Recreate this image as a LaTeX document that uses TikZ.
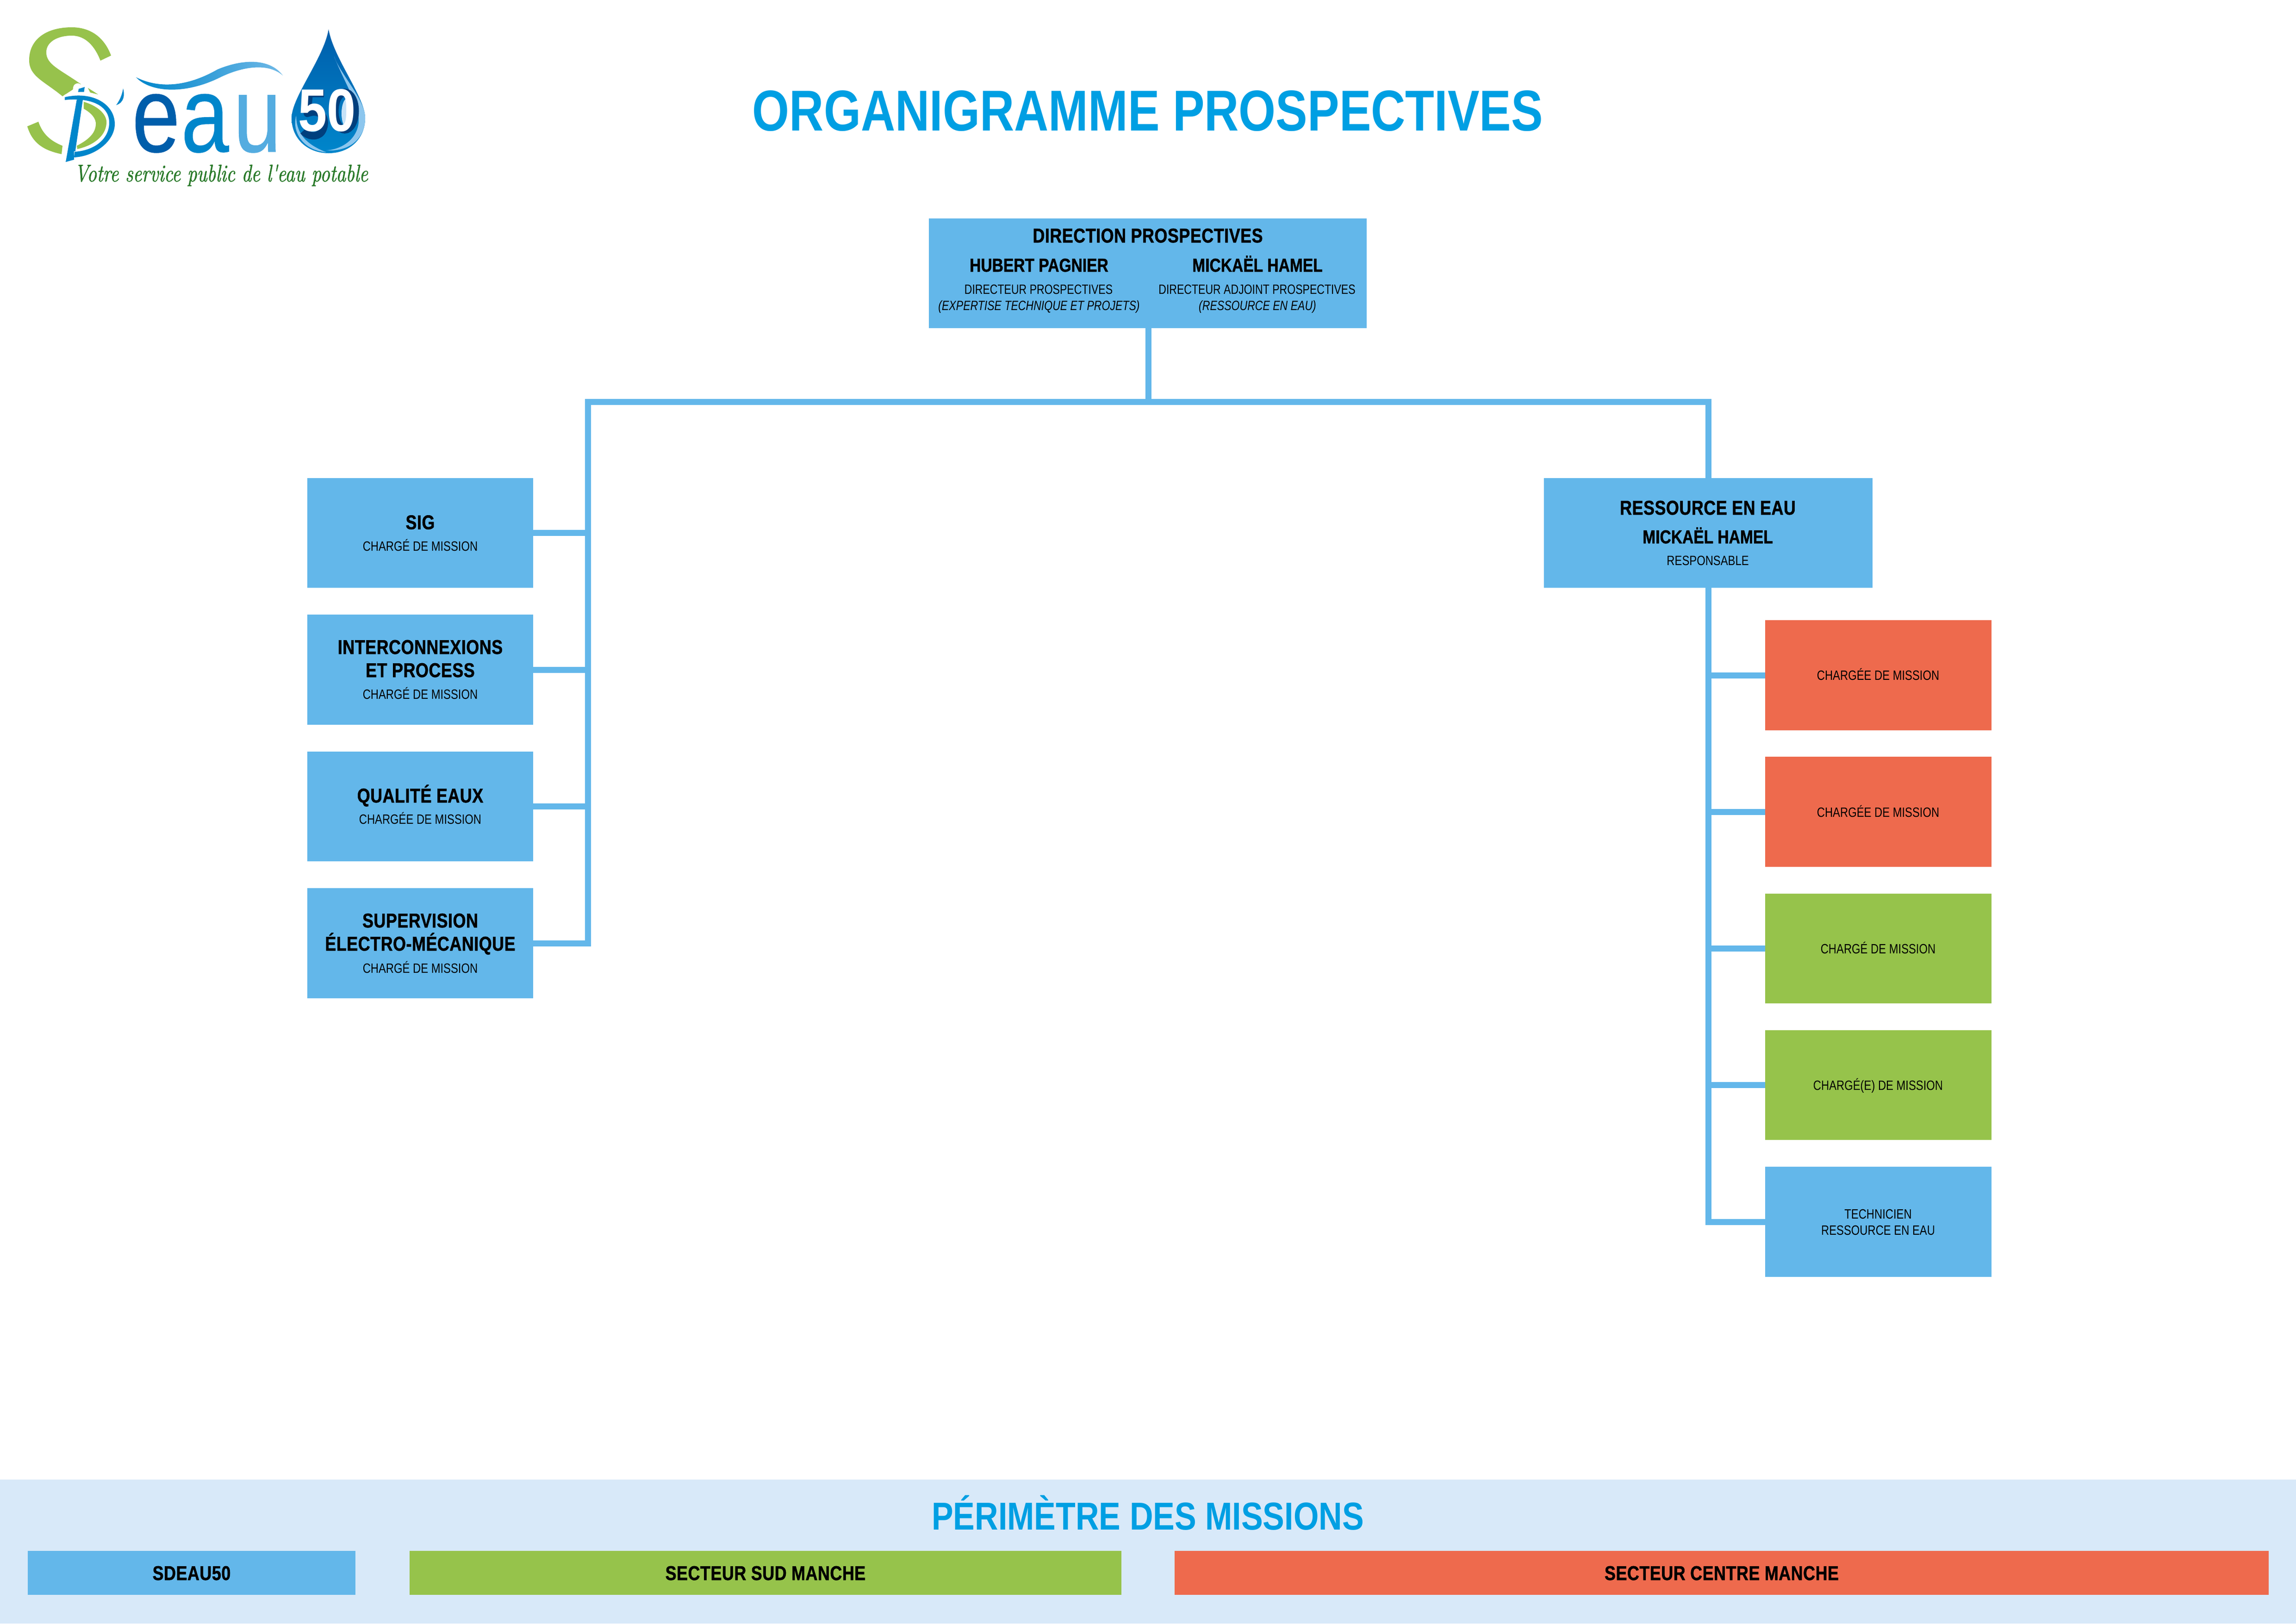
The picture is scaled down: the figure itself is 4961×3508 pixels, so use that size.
\documentclass[tikz,border=0pt]{standalone}
\usepackage{fontspec}
\usepackage{graphicx}
\setmainfont{Liberation Sans}
\newfontfamily\fhead[FakeStretch=.83,FakeBold=1.2,LetterSpace=1.2]{Liberation Sans}
\newfontfamily\fname[FakeStretch=.83,FakeBold=1.2]{Liberation Sans}
\newfontfamily\fbody[FakeStretch=.815]{Liberation Sans}
\newfontfamily\fdirect[FakeStretch=.79]{Liberation Sans}
\newfontfamily\ftitle[FakeStretch=.826]{Liberation Sans}
\newfontfamily\fband[FakeStretch=.833]{Liberation Sans}
\newfontfamily\feau[FakeStretch=.80,FakeBold=.4]{Liberation Sans}
\newfontfamily\ffifty[FakeStretch=.86]{Liberation Sans}
\newfontfamily\fscript[FakeStretch=.80,FakeBold=1.5]{Latin Modern Roman}
\definecolor{cblue}{HTML}{63B7EA}
\definecolor{cgreen}{HTML}{96C34B}
\definecolor{corange}{HTML}{EE6A4D}
\definecolor{cband}{HTML}{D8E9F9}
\definecolor{ctitle}{HTML}{009FE3}
\definecolor{lgreen}{HTML}{97C24C}
\definecolor{dblue}{HTML}{0086CB}
\definecolor{mblue}{HTML}{005EAB}
\definecolor{sblue}{HTML}{003F7D}
\definecolor{lblue}{HTML}{8CC6EE}
\definecolor{tgreen}{HTML}{2A7A2A}
\tikzset{
  x=0.01cm,y=-0.01cm,
  boxbase/.style={rectangle,draw=none,inner sep=0pt,outer sep=0pt},
  leftbox/.style={boxbase,fill=cblue,minimum width=4.88cm,minimum height=2.37cm},
  subblue/.style={boxbase,fill=cblue,minimum width=4.89cm,minimum height=2.37cm},
  suborange/.style={boxbase,fill=corange,minimum width=4.89cm,minimum height=2.37cm},
  subgreen/.style={boxbase,fill=cgreen,minimum width=4.89cm,minimum height=2.37cm},
  linkline/.style={draw=cblue,line width=0.13cm,line join=miter},
  txt/.style={inner sep=0pt,outer sep=0pt,anchor=base,text=black},
  headtxt/.style={txt,font=\fhead\bfseries\fontsize{12.3}{14}\selectfont},
  nametxt/.style={txt,font=\fname\bfseries\fontsize{11.5}{14}\selectfont},
  roletxt/.style={txt,font=\fbody\fontsize{8.3}{10}\selectfont},
  dirtxt/.style={txt,font=\fdirect\fontsize{8.3}{10}\selectfont},
  roleit/.style={txt,font=\fdirect\itshape\fontsize{8.3}{10}\selectfont},
  legendtxt/.style={txt,font=\fhead\bfseries\fontsize{12.3}{14}\selectfont},
}
\begin{document}
\begin{tikzpicture}
\useasboundingbox (0,0) rectangle (4961,3508);
% ---- logo ----
\fill[lgreen] (240,120) .. controls (225,80) and (195,59) .. (155,59)
  .. controls (100,59) and (63,85) .. (63,130)
  .. controls (63,165) and (95,175) .. (135,208)
  -- (175,182) .. controls (130,150) and (100,140) .. (100,113)
  .. controls (100,90) and (125,77) .. (155,77)
  .. controls (185,77) and (205,100) .. (217,131) -- cycle;
\fill[lgreen] (59,273) -- (83,263) .. controls (92,290) and (110,305) .. (135,315)
  -- (133,333) .. controls (95,325) and (70,310) .. (59,273) -- cycle;
\fill[lgreen] (181,220) .. controls (215,230) and (232,250) .. (230,267)
  .. controls (228,295) and (200,315) .. (167,322) -- (166,315)
  .. controls (195,300) and (208,285) .. (207,265) .. controls (205,250) and (190,240) .. (181,235) -- cycle;
\fill[lgreen] (190,190) -- (212,204) -- (195,200) -- cycle;
\draw[white,line width=0.2cm,line cap=round] (168,190) -- (148,345);
\fill[dblue] (170,192) -- (183,188) -- (160,345) -- (142,350) -- cycle;
\draw[white,line width=0.16cm] (142,212) .. controls (200,195) and (240,220) .. (243,265) .. controls (245,300) and (205,335) .. (160,335);
\fill[dblue] (140,210) .. controls (200,196) and (248,225) .. (248,268)
  .. controls (248,305) and (205,338) .. (160,340) -- (161,328)
  .. controls (205,325) and (236,300) .. (236,265)
  .. controls (236,230) and (200,210) .. (140,216) -- cycle;
\fill[dblue] (266,191) .. controls (270,205) and (268,222) .. (251,227) .. controls (258,218) and (264,205) .. (266,191) -- cycle;
\shade[left color=dblue,middle color=mblue,right color=lblue!80!dblue]
  (294,167) .. controls (325,200) and (400,205) .. (476,167)
  .. controls (515,148) and (575,132) .. (611,163)
  .. controls (585,128) and (530,125) .. (470,150)
  .. controls (400,190) and (340,190) .. (294,167) -- cycle;
\node[inner sep=0pt,anchor=base,text=mblue,font=\feau\fontsize{66}{70}\selectfont] (le) at (337,328) {e};
\node[inner sep=0pt,anchor=base,text=dblue,font=\feau\fontsize{66}{70}\selectfont] (la) at (443,328) {a};
\node[inner sep=0pt,anchor=base,text=lblue!60!dblue,font=\feau\fontsize{66}{70}\selectfont] (lu) at (556,328) {u};
\shade[top color=mblue,bottom color=dblue]
  (710,63) .. controls (700,125) and (630,210) .. (630,255)
  .. controls (630,300) and (665,331) .. (710,331)
  .. controls (755,331) and (789,300) .. (789,255)
  .. controls (789,210) and (720,125) .. (710,63) -- cycle;
\fill[lblue] (722,122) .. controls (745,180) and (775,225) .. (775,260)
  .. controls (775,295) and (745,322) .. (705,325)
  .. controls (760,328) and (789,295) .. (789,255)
  .. controls (789,215) and (735,160) .. (722,122) -- cycle;
\fill[lblue] (640,250) .. controls (630,285) and (655,325) .. (705,329)
  .. controls (670,315) and (640,295) .. (640,250) -- cycle;
\draw[sblue,line width=0.17cm] (745,240) ellipse (22 and 40);
\fill[lblue!50!white] (750,245) ellipse (12 and 32);
\draw[sblue,line width=0.16cm,line join=round] (700,202) -- (668,202) -- (664,245) .. controls (700,232) and (708,265) .. (695,285) .. controls (685,298) and (665,295) .. (655,283);
\node[inner sep=0pt,anchor=base,text=white,font=\ffifty\bfseries\fontsize{37}{40}\selectfont] (fifty) at (707,283) {50};
\node[inner sep=0pt,anchor=base,text=tgreen,font=\fscript\itshape\fontsize{14.8}{17}\selectfont] (tag) at (478,392) {Votre service public de l'eau potable};
% ---- title ----
\node[inner sep=0pt,anchor=base,text=ctitle,font=\ftitle\bfseries\fontsize{35.4}{40}\selectfont] (title) at (2480,282) {ORGANIGRAMME PROSPECTIVES};
% ---- boxes ----
\node[boxbase,fill=cblue,minimum width=9.46cm,minimum height=2.37cm] (dir) at (2480,590.5) {};
\node[leftbox] (sig) at (908,1151.5) {};
\node[leftbox] (inter) at (908,1447) {};
\node[leftbox] (qual) at (908,1742.5) {};
\node[leftbox] (sup) at (908,2038) {};
\node[boxbase,fill=cblue,minimum width=7.10cm,minimum height=2.37cm] (res) at (3691,1151.5) {};
\node[suborange] (m1) at (4058.5,1459) {};
\node[suborange] (m2) at (4058.5,1754) {};
\node[subgreen] (m3) at (4058.5,2049.5) {};
\node[subgreen] (m4) at (4058.5,2344.5) {};
\node[subblue] (m5) at (4058.5,2640) {};
% ---- connectors ----
\coordinate (hub) at (2481,868.5);
\coordinate (legL) at (1270,868.5);
\coordinate (legR) at (3691,868.5);
\draw[linkline] (dir.south -| hub) -- (hub);
\draw[linkline] (sup.east) -- (sup.east -| legL) -- (legL) -- (legR) -- (res.north);
\draw[linkline] (sig.east) -- (sig.east -| legL);
\draw[linkline] (inter.east) -- (inter.east -| legL);
\draw[linkline] (qual.east) -- (qual.east -| legL);
\draw[linkline] (res.south) -- (res.south |- m5.west) -- (m5.west);
\draw[linkline] (res.south |- m1.west) -- (m1.west);
\draw[linkline] (res.south |- m2.west) -- (m2.west);
\draw[linkline] (res.south |- m3.west) -- (m3.west);
\draw[linkline] (res.south |- m4.west) -- (m4.west);
% ---- texts ----
\node[headtxt] (t1) at (2480,524) {DIRECTION PROSPECTIVES};
\node[nametxt] (t2) at (2245,587) {HUBERT PAGNIER};
\node[nametxt] (t3) at (2717,587) {MICKAËL HAMEL};
\node[dirtxt] (t4) at (2244,635) {DIRECTEUR PROSPECTIVES};
\node[roleit] (t5) at (2245,670) {(EXPERTISE TECHNIQUE ET PROJETS)};
\node[dirtxt] (t6) at (2716,635) {DIRECTEUR ADJOINT PROSPECTIVES};
\node[roleit] (t7) at (2717,670) {(RESSOURCE EN EAU)};
\node[headtxt] (s1) at (908,1143.5) {SIG};
\node[roletxt] (s2) at (908,1190) {CHARGÉ DE MISSION};
\node[headtxt] (i1) at (908,1413) {INTERCONNEXIONS};
\node[headtxt] (i2) at (908,1463) {ET PROCESS};
\node[roletxt] (i3) at (908,1510) {CHARGÉ DE MISSION};
\node[headtxt] (q1) at (908,1734) {QUALITÉ EAUX};
\node[roletxt] (q2) at (908,1780) {CHARGÉE DE MISSION};
\node[headtxt] (u1) at (908,2004) {SUPERVISION};
\node[headtxt] (u2) at (908,2054) {ÉLECTRO-MÉCANIQUE};
\node[roletxt] (u3) at (908,2102) {CHARGÉ DE MISSION};
\node[headtxt] (r1) at (3690,1112) {RESSOURCE EN EAU};
\node[nametxt] (r2) at (3690,1174) {MICKAËL HAMEL};
\node[roletxt] (r3) at (3690,1221) {RESPONSABLE};
\node[roletxt] (a1) at (4058,1469) {CHARGÉE DE MISSION};
\node[roletxt] (a2) at (4058,1765) {CHARGÉE DE MISSION};
\node[roletxt] (a3) at (4058,2060) {CHARGÉ DE MISSION};
\node[roletxt] (a4) at (4058,2355) {CHARGÉ(E) DE MISSION};
\node[roletxt] (a5) at (4058,2633) {TECHNICIEN};
\node[roletxt] (a6) at (4058,2668) {RESSOURCE EN EAU};
% ---- footer ----
\fill[cband] (0,3197) rectangle (4961,3508);
\node[boxbase,fill=cblue,minimum width=7.08cm,minimum height=0.95cm] (k1) at (414,3398.5) {};
\node[boxbase,fill=cgreen,minimum width=15.37cm,minimum height=0.95cm] (k2) at (1654,3398.5) {};
\node[boxbase,fill=corange,minimum width=23.62cm,minimum height=0.95cm] (k3) at (3720,3398.5) {};
\node[inner sep=0pt,anchor=base,text=ctitle,font=\fband\bfseries\fontsize{23.9}{26}\selectfont] (foot) at (2480,3305) {PÉRIMÈTRE DES MISSIONS};
\node[legendtxt] (l1) at (414,3414) {SDEAU50};
\node[legendtxt] (l2) at (1654,3414) {SECTEUR SUD MANCHE};
\node[legendtxt] (l3) at (3720,3414) {SECTEUR CENTRE MANCHE};
\end{tikzpicture}
\end{document}
